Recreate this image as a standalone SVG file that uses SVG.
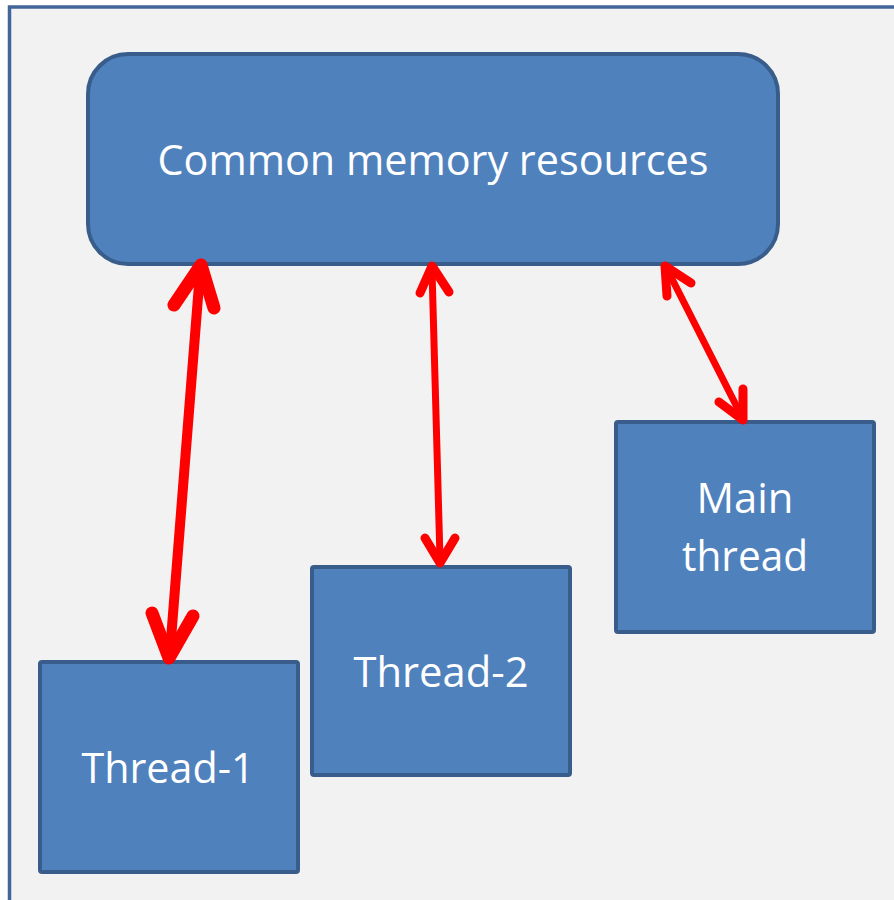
<svg xmlns="http://www.w3.org/2000/svg" width="894" height="900" viewBox="0 0 894 900">
<style>
.box{fill:#4f81bd;stroke:#385d8a;stroke-width:4}
.lbl{fill:#fff;font-family:"Open Sans","Liberation Sans",sans-serif;font-size:42px;text-anchor:middle}
.c{fill:none;stroke:#ff0000;stroke-linecap:round;stroke-linejoin:round}
</style>
<rect x="0" y="0" width="894" height="900" fill="#ffffff"/>
<rect x="9.5" y="7" width="900" height="910" fill="#f2f2f2" stroke="#41679a" stroke-width="3.5"/>
<g id="common">
<rect class="box" x="88" y="54" width="690" height="210" rx="40"/>
<text class="lbl" x="433" y="175" textLength="551" lengthAdjust="spacingAndGlyphs">Common memory resources</text>
</g>
<g id="thread1">
<rect class="box" x="40" y="662" width="258" height="210" rx="2"/>
<text class="lbl" x="168" y="783" textLength="173" lengthAdjust="spacingAndGlyphs">Thread-1</text>
</g>
<g id="thread2">
<rect class="box" x="312" y="567" width="258" height="208" rx="2"/>
<text class="lbl" x="441" y="687" textLength="175" lengthAdjust="spacingAndGlyphs">Thread-2</text>
</g>
<g id="main">
<rect class="box" x="616" y="422" width="258" height="210" rx="2"/>
<text class="lbl" x="745" y="513" textLength="97" lengthAdjust="spacingAndGlyphs">Main</text>
<text class="lbl" x="745" y="571" textLength="126" lengthAdjust="spacingAndGlyphs">thread</text>
</g>
<g id="connectors">
<line class="c" x1="200" y1="272" x2="170" y2="652" stroke-width="10"/>
<polyline class="c" points="174,305 201,265 214,308" stroke-width="13"/>
<polyline class="c" points="152,613 169,658 193,616" stroke-width="13"/>
<line class="c" x1="432" y1="270" x2="440" y2="559" stroke-width="7"/>
<polyline class="c" points="420,293 432,266 449,292" stroke-width="9"/>
<polyline class="c" points="425,538 440,563 455,538" stroke-width="9"/>
<line class="c" x1="667" y1="269" x2="742" y2="417" stroke-width="7"/>
<polyline class="c" points="667,296 665,266 691,283" stroke-width="9"/>
<polyline class="c" points="719,402 743,420 743,389" stroke-width="9"/>
</g>
</svg>
